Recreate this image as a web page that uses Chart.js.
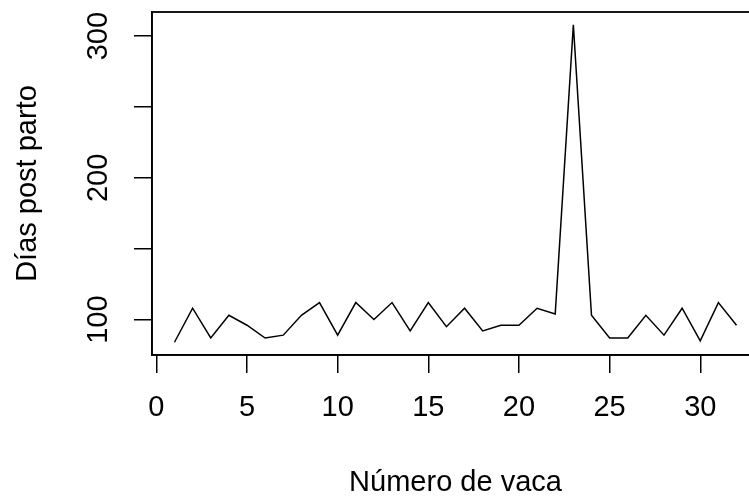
<!DOCTYPE html>
<html>
<head>
<meta charset="utf-8">
<script src="https://cdn.jsdelivr.net/npm/chart.js@4"></script>
<style>
	html, body { margin: 0; padding: 0; background: #fff; overflow: hidden; width: 749px; height: 497px; }
	canvas { display: block; }
</style>
</head>
<body>
<canvas id="chart" width="780" height="497"></canvas>
<script>
// cow number and days post partum
var vacas = [1, 2, 3, 4, 5, 6, 7, 8, 9, 10, 11, 12, 13, 14, 15, 16,
	17, 18, 19, 20, 21, 22, 23, 24, 25, 26, 27, 28, 29, 30, 31, 32];
var dias = [84, 108, 87, 103, 96, 87, 89, 103, 112, 89, 112, 100, 112, 92, 112, 95,
	108, 92, 96, 96, 108, 104, 308, 103, 87, 87, 103, 89, 108, 85, 112, 96];
var x_ticks = [0, 5, 10, 15, 20, 25, 30];
var y_labels = [100, 200, 300];

var font_family = "'Liberation Sans', Arial, sans-serif";

// R style box around the plot region
var box_plugin = {
	id: 'box',
	afterDraw: function (chart) {
		var a = chart.chartArea;
		var ctx = chart.ctx;
		ctx.save();
		ctx.strokeStyle = '#000';
		ctx.lineWidth = 1.8;
		ctx.strokeRect(a.left, a.top, a.right - a.left, a.bottom - a.top);
		ctx.restore();
	}
};

var points = vacas.map(function (v, i) {
	return { x: v, y: dias[i] };
});

new Chart(document.getElementById('chart'), {
	type: 'line',
	data: {
		datasets: [{
			data: points,
			borderColor: '#000',
			borderWidth: 1.5,
			pointRadius: 0,
			tension: 0,
			fill: false
		}]
	},
	options: {
		responsive: false,
		animation: false,
		events: [],
		layout: { padding: { left: 0, top: 12, right: 21, bottom: 0 } },
		plugins: {
			legend: { display: false },
			tooltip: { enabled: false }
		},
		scales: {
			x: {
				type: 'linear',
				position: 'bottom',
				min: -0.24,
				max: 33.24,
				afterBuildTicks: function (scale) {
					scale.ticks = x_ticks.map(function (v) { return { value: v }; });
				},
				ticks: {
					color: '#000',
					padding: 18,
					maxRotation: 0,
					font: { family: font_family, size: 29, lineHeight: 1.2 }
				},
				grid: {
					display: true,
					drawOnChartArea: false,
					drawTicks: true,
					tickLength: 18,
					color: '#000',
					lineWidth: 1.5
				},
				border: { display: true, color: '#000', width: 1.5 },
				title: {
					display: true,
					text: 'Número de vaca',
					color: '#000',
					padding: 0,
					font: { family: font_family, size: 29, lineHeight: 1.0 }
				},
				afterFit: function (scale) {
					scale.height = 142;
					scale.paddingLeft = 0;
					scale.paddingRight = 0;
				}
			},
			y: {
				type: 'linear',
				position: 'left',
				min: 75,
				max: 317,
				ticks: {
					stepSize: 50,
					includeBounds: false,
					color: '#000',
					padding: 11,
					minRotation: 90,
					maxRotation: 90,
					crossAlign: 'center',
					font: { family: font_family, size: 29, lineHeight: 1.2 },
					callback: function (value) {
						return y_labels.indexOf(value) >= 0 ? String(value) : '';
					}
				},
				grid: {
					display: true,
					drawOnChartArea: false,
					drawTicks: true,
					tickLength: 18,
					color: '#000',
					lineWidth: 1.5
				},
				border: { display: true, color: '#000', width: 1.5 },
				title: {
					display: true,
					text: 'Días post parto',
					color: '#000',
					padding: { top: 11, bottom: 0 },
					font: { family: font_family, size: 29, lineHeight: 1.2 }
				},
				afterFit: function (scale) {
					scale.width = 152;
					scale.paddingTop = 0;
					scale.paddingBottom = 0;
				}
			}
		}
	},
	plugins: [box_plugin]
});
</script>
</body>
</html>
